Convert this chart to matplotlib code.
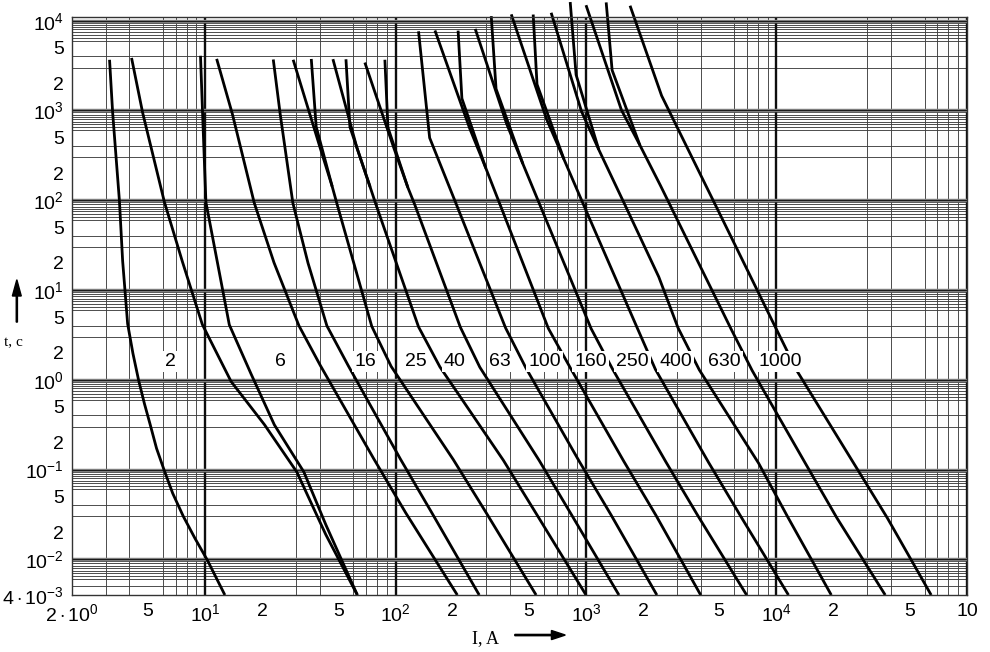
import numpy as np
import matplotlib.pyplot as plt
from matplotlib.patches import FancyArrow
from matplotlib.ticker import FixedLocator, NullFormatter

plt.rcParams['font.family'] = ['Liberation Sans', 'DejaVu Sans']
plt.rcParams['mathtext.fontset'] = 'custom'
plt.rcParams['mathtext.rm'] = 'Liberation Sans'
plt.rcParams['mathtext.it'] = 'Liberation Sans'

# время-токовые характеристики: ток [A], время [c]
cA_I = [3.15, 3.27, 3.55, 3.69, 3.92, 4.18, 4.48, 4.80, 5.13, 5.56, 6.1, 6.76, 7.69, 8.85, 10.3, 12.7]
cA_t = [3670, 950, 98, 21.1, 4.2, 1.96, 0.98, 0.544, 0.326, 0.172, 0.098, 0.0543, 0.030, 0.0171,
        0.0097, 0.004]
cB_I = [4.11, 4.70, 6.11, 7.6, 9.67, 13.7, 20.5, 30.3, 43, 63]
cB_t = [3850, 944, 96, 20.7, 4.13, 0.955, 0.316, 0.094, 0.0189, 0.004]
cC_I = [9.46, 9.7, 10.1, 13.4, 17.5, 23.1, 33, 43, 63]
cC_t = [4070, 927, 95, 4.1, 1.14, 0.315, 0.094, 0.0244, 0.004]
cD_I = [11.5, 13.9, 18.1, 23.0, 31.1, 40.3, 76.8, 113, 211]
cD_t = [3760, 917, 94, 20.2, 4.0, 1.44, 0.132, 0.033, 0.004]
cE_I = [22.8, 24.8, 28.9, 34.7, 43.6, 56.5, 106, 155, 275]
cE_t = [3700, 906, 93, 20.0, 3.99, 1.43, 0.131, 0.033, 0.004]
cF_I = [29.0, 40.0, 46.5, 49.2, 75.0, 94.8, 201, 301, 547]
cF_t = [3675, 396, 142, 91.9, 3.94, 1.41, 0.129, 0.0323, 0.004]
cG_I = [46.9, 62.5, 73.5, 78.7, 132, 171, 368, 550, 1000]
cG_t = [3730, 392, 141, 91, 3.89, 1.39, 0.127, 0.0318, 0.004]
cH_I = [69.0, 97.7, 116, 126, 219, 277, 568, 838, 1489]
cH_t = [3420, 388, 139, 89.8, 3.84, 1.38, 0.126, 0.0315, 0.004]
cJ_I = [132, 151, 209, 378, 483, 920, 1355, 2355]
cJ_t = [7630, 496, 88.9, 3.79, 1.36, 0.124, 0.0311, 0.004]
cK_I = [161, 245, 298, 355, 634, 830, 1581, 2333, 4000]
cK_t = [7790, 632, 227, 87.8, 3.74, 1.34, 0.123, 0.0307, 0.004]
cL_I = [262, 383, 466, 575, 1064, 1377, 2630, 3873, 6970]
cL_t = [8110, 711, 255, 86.9, 3.71, 1.32, 0.121, 0.0304, 0.004]
cM_I = [405, 621, 766, 978, 1870, 2312, 4400, 6500, 11560]
cM_t = [11780, 798, 286, 85.8, 3.66, 1.31, 0.120, 0.030, 0.004]
cN_I = [656, 948, 1167, 1618, 2410, 3040, 3933, 8050, 11460, 19400]
cN_t = [12270, 970, 366, 84.7, 14.0, 3.80, 1.29, 0.118, 0.0296, 0.004]
cP_I = [1000, 1535, 1918, 2455, 5754, 7450, 14190, 20700, 37240]
cP_t = [14900, 1010, 411, 147, 3.74, 1.27, 0.117, 0.0292, 0.004]
cR_I = [1703, 2494, 5035, 9790, 12800, 25600, 38300, 64900]
cR_t = [14700, 1462, 70.8, 3.99, 1.26, 0.115, 0.0286, 0.004]

# крутые верхние ветви, сходящиеся с основными кривыми
bF_I = [36.1, 38.3, 46.5]
bF_t = [3750, 661, 142]
bG_I = [54.9, 57.6, 73.5]
bG_t = [3720, 654, 141]
bH_I = [87.9, 91.2, 116]
bH_t = [3675, 647, 139]
bK_I = [213, 223, 298]
bK_t = [7750, 1362, 227]
bL_I = [318, 337, 466]
bL_t = [11250, 1743, 255]
bM_I = [528, 553, 766]
bM_t = [11720, 1958, 286]
bN_I = [826, 887, 1167]
bN_t = [16150, 2500, 366]
bP_I = [1276, 1371, 1918]
bP_t = [16000, 2812, 411]

curves = [(cA_I, cA_t), (cB_I, cB_t), (cC_I, cC_t), (cD_I, cD_t), (cE_I, cE_t),
          (cF_I, cF_t), (cG_I, cG_t), (cH_I, cH_t), (cJ_I, cJ_t), (cK_I, cK_t),
          (cL_I, cL_t), (cM_I, cM_t), (cN_I, cN_t), (cP_I, cP_t), (cR_I, cR_t),
          (bF_I, bF_t), (bG_I, bG_t), (bH_I, bH_t), (bK_I, bK_t),
          (bL_I, bL_t), (bM_I, bM_t), (bN_I, bN_t), (bP_I, bP_t)]

# подписи номинальных токов
lab_txt = ['2', '6', '16', '25', '40', '63', '100', '160', '250', '400', '630', '1000']
lab_I = [6.6, 24.9, 69.3, 128, 205, 353, 607, 1057, 1754, 2946, 5318, 10450]
lab_t = 1.6

x_ticks = [2, 5, 10, 20, 50, 100, 200, 500, 1e3, 2e3, 5e3, 1e4, 2e4, 5e4, 1e5]
x_labels = [r'$2\cdot10^0$', '5', r'$10^1$', '2', '5', r'$10^2$', '2', '5', r'$10^3$',
            '2', '5', r'$10^4$', '2', '5', '10']
y_ticks = [4e-3, 1e-2, 2e-2, 5e-2, 1e-1, 2e-1, 5e-1, 1, 2, 5, 10, 20, 50,
           100, 200, 500, 1e3, 2e3, 5e3, 1e4]
y_labels = [r'$4\cdot10^{-3}$', r'$10^{-2}$', '2', '5', r'$10^{-1}$', '2', '5', r'$10^0$',
            '2', '5', r'$10^1$', '2', '5', r'$10^2$', '2', '5', r'$10^3$', '2', '5', r'$10^4$']

fig = plt.figure(figsize=(9.9, 6.52), dpi=100)
ax = fig.add_axes([0.0727, 0.0874, 0.904, 0.8865])
ax.set_xscale('log')
ax.set_yscale('log')
ax.set_xlim(2, 1e5)
ax.set_ylim(4e-3, 1.1e4)

subs = np.arange(1, 10)
xminor = [m * 10.0**k for k in range(0, 6) for m in subs]
yminor = [m * 10.0**k for k in range(-3, 5) for m in list(subs) + [6.5, 7.5, 8.5, 9.5]]
ax.xaxis.set_minor_locator(FixedLocator(xminor))
ax.yaxis.set_minor_locator(FixedLocator(yminor))
ax.xaxis.set_minor_formatter(NullFormatter())
ax.yaxis.set_minor_formatter(NullFormatter())
ax.grid(which='minor', color='0.25', lw=0.65)
for k in range(0, 6):
    ax.axvline(10.0**k, color='0.05', lw=1.7)
for k in range(-2, 5):
    ax.axhline(10.0**k, color='0.55', lw=2.5)
    ax.axhline(10.0**k, color='0.1', lw=0.9)

ax.set_xticks(x_ticks)
ax.set_xticklabels(x_labels)
ax.set_yticks(y_ticks)
ax.set_yticklabels(y_labels)
ax.tick_params(which='both', length=0, labelsize=14, pad=6)
for s in ax.spines.values():
    s.set_color('0.2')
    s.set_linewidth(1.0)

for I, t in curves:
    ax.plot(I, t, color='k', lw=2.0, solid_capstyle='butt', solid_joinstyle='round',
            clip_on=False)

for txt, I in zip(lab_txt, lab_I):
    ax.text(I, lab_t, txt, fontsize=14, ha='center', va='center',
            bbox=dict(boxstyle='square,pad=0.12', fc='white', ec='none'))

fig.text(0.004, 0.475, 't, c', fontsize=11, family='Liberation Serif', ha='left', va='center')
fig.text(0.49, 0.02, 'I, A', fontsize=13, family='Liberation Serif', ha='center', va='center')
fig.patches.append(FancyArrow(0.017, 0.506, 0, 0.065, width=0.0012, length_includes_head=True,
                              head_width=0.009, head_length=0.025, color='k',
                              transform=fig.transFigure))
fig.patches.append(FancyArrow(0.52, 0.026, 0.051, 0, width=0.002, length_includes_head=True,
                              head_width=0.014, head_length=0.014, color='k',
                              transform=fig.transFigure))

fig.savefig('out.png', dpi=100)
